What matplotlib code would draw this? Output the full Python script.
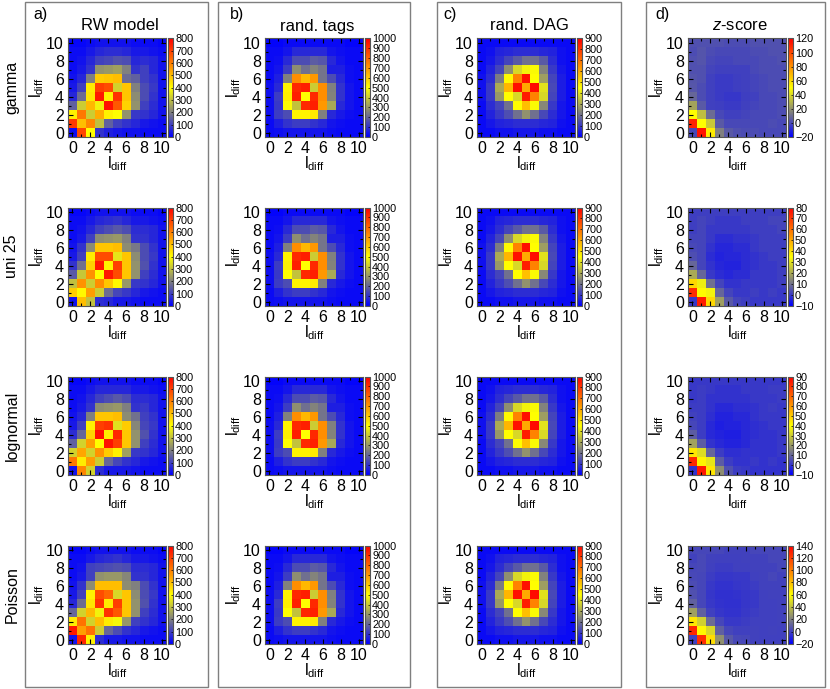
import numpy as np
import matplotlib
matplotlib.use("Agg")
import matplotlib.pyplot as plt
from matplotlib.colors import LinearSegmentedColormap
from matplotlib.patches import Rectangle

plt.rcParams['font.family'] = ['Liberation Sans', 'DejaVu Sans']
plt.rcParams['mathtext.fontset'] = 'custom'
plt.rcParams['mathtext.rm'] = 'Liberation Sans'
plt.rcParams['mathtext.it'] = 'Liberation Sans:italic'

# ---------------- data (rows: l_diff y = 0 .. 10, columns: x = 0 .. 10) ----------------
column_titles = ["RW model", "rand. tags", "rand. DAG", r"$z$-score"]
panel_letters = ["a)", "b)", "c)", "d)"]
row_labels = ["gamma", "uni 25", "lognormal", "Poisson"]
tick_values = [0, 2, 4, 6, 8, 10]

rw_gamma = [
    [20, 690, 400, 80, 50, 40, 30, 30, 20, 20, 20],
    [710, 500, 590, 300, 150, 100, 80, 60, 40, 30, 20],
    [420, 610, 320, 530, 420, 400, 230, 90, 80, 60, 30],
    [150, 320, 510, 380, 770, 660, 470, 230, 100, 70, 30],
    [60, 170, 440, 760, 420, 720, 490, 220, 120, 80, 30],
    [40, 100, 430, 700, 680, 330, 490, 200, 120, 90, 30],
    [30, 60, 200, 480, 490, 500, 170, 150, 100, 80, 30],
    [20, 40, 80, 230, 240, 250, 200, 80, 100, 60, 30],
    [20, 30, 60, 100, 110, 130, 120, 60, 70, 60, 30],
    [20, 20, 40, 60, 70, 70, 60, 40, 40, 30, 20],
    [10, 10, 20, 30, 30, 30, 30, 20, 20, 20, 10],
]
rw_uni25 = [
    [30, 500, 300, 70, 60, 40, 40, 30, 20, 20, 20],
    [480, 410, 550, 320, 170, 110, 90, 60, 40, 30, 20],
    [300, 570, 320, 580, 490, 410, 240, 90, 80, 60, 30],
    [140, 310, 570, 400, 760, 680, 490, 230, 100, 70, 30],
    [80, 180, 470, 760, 420, 700, 490, 230, 130, 80, 30],
    [40, 100, 430, 680, 680, 360, 490, 220, 120, 90, 30],
    [30, 80, 220, 490, 490, 500, 220, 190, 120, 80, 30],
    [20, 40, 100, 220, 230, 240, 200, 80, 80, 60, 30],
    [20, 30, 60, 100, 120, 140, 120, 70, 70, 60, 30],
    [20, 20, 40, 60, 70, 80, 60, 40, 40, 30, 20],
    [10, 10, 20, 30, 30, 30, 30, 20, 20, 20, 10],
]
rw_lognormal = [
    [30, 590, 330, 70, 40, 40, 40, 30, 20, 20, 20],
    [610, 430, 550, 320, 160, 110, 80, 60, 40, 30, 20],
    [330, 540, 330, 570, 480, 420, 250, 90, 80, 60, 30],
    [150, 330, 550, 400, 770, 700, 490, 230, 100, 70, 30],
    [70, 160, 470, 780, 430, 740, 490, 230, 130, 80, 30],
    [40, 100, 420, 700, 720, 350, 480, 210, 110, 90, 30],
    [30, 60, 200, 490, 490, 500, 220, 180, 100, 80, 30],
    [20, 40, 80, 220, 230, 240, 200, 80, 90, 60, 30],
    [20, 30, 60, 100, 120, 140, 120, 70, 70, 60, 30],
    [20, 20, 40, 60, 60, 60, 60, 40, 40, 30, 20],
    [10, 10, 20, 30, 30, 30, 30, 20, 20, 20, 10],
]
rw_poisson = [
    [30, 740, 420, 70, 40, 40, 30, 30, 20, 20, 20],
    [760, 550, 620, 320, 160, 120, 80, 60, 40, 30, 20],
    [430, 620, 330, 500, 430, 390, 240, 100, 80, 60, 30],
    [160, 330, 510, 380, 720, 660, 490, 230, 100, 70, 30],
    [60, 170, 440, 720, 430, 700, 490, 230, 130, 80, 30],
    [40, 100, 420, 680, 640, 340, 490, 220, 120, 90, 30],
    [30, 80, 220, 500, 500, 500, 220, 200, 120, 80, 30],
    [20, 40, 100, 230, 240, 240, 210, 80, 80, 60, 30],
    [20, 30, 100, 110, 120, 130, 120, 70, 70, 60, 30],
    [20, 20, 40, 60, 70, 80, 60, 40, 40, 30, 20],
    [10, 10, 20, 30, 30, 30, 30, 20, 20, 20, 10],
]
rand_tags = [
    [20, 30, 40, 40, 40, 40, 40, 30, 20, 20, 20],
    [20, 60, 100, 120, 120, 100, 80, 40, 30, 20, 20],
    [30, 120, 150, 520, 520, 540, 250, 80, 50, 30, 20],
    [30, 110, 500, 380, 920, 940, 700, 330, 80, 40, 20],
    [30, 120, 530, 940, 500, 920, 720, 260, 100, 40, 20],
    [30, 80, 520, 920, 940, 400, 720, 250, 100, 40, 20],
    [20, 60, 250, 720, 640, 700, 230, 150, 80, 30, 20],
    [20, 40, 120, 280, 220, 260, 230, 60, 60, 30, 20],
    [20, 30, 80, 150, 150, 180, 170, 80, 40, 20, 20],
    [20, 20, 40, 80, 80, 80, 80, 40, 30, 20, 20],
    [10, 10, 20, 20, 20, 20, 20, 20, 20, 10, 10],
]
rand_dag = [
    [20, 20, 30, 30, 40, 40, 40, 30, 30, 20, 20],
    [20, 40, 60, 70, 80, 80, 80, 70, 60, 30, 20],
    [20, 60, 100, 140, 200, 260, 200, 130, 80, 40, 20],
    [20, 80, 120, 200, 450, 560, 440, 240, 100, 40, 20],
    [30, 100, 270, 450, 380, 850, 670, 380, 120, 50, 20],
    [30, 100, 300, 580, 870, 600, 880, 400, 130, 50, 20],
    [30, 80, 220, 460, 670, 870, 450, 280, 120, 50, 20],
    [20, 60, 120, 250, 380, 430, 440, 230, 100, 40, 20],
    [20, 40, 80, 120, 160, 200, 200, 160, 80, 30, 20],
    [20, 30, 60, 70, 80, 80, 80, 70, 60, 30, 20],
    [20, 20, 20, 20, 20, 20, 20, 20, 20, 20, 20],
]
z_gamma = [
    [0, 115, 55, 15, 5, 2, 1, 1, 0, 0, 0],
    [110, 50, 35, 5, 0, 0, 0, 0, 0, 1, 0],
    [50, 32, 10, 0, -2, -2, -1, 0, 0, 0, 1],
    [25, 5, -2, -3, -4, -4, -2, -1, 0, 0, 1],
    [8, 1, -2, -4, -5, -5, -3, -2, 0, 0, 1],
    [4, 1, -2, -4, -4, -3, -2, -1, 0, 1, 1],
    [3, 2, -2, -4, -4, -3, -2, -1, 0, 1, 1],
    [2, 2, -1, -2, -2, -2, -2, 0, 1, 1, 1],
    [2, 3, 0, -1, -1, 0, 0, 0, 1, 1, 2],
    [1, 3, 1, 0, 0, 0, 0, 1, 1, 2, 2],
    [2, 2, 2, 2, 1, 1, 1, 2, 2, 2, 2],
]
z_uni25 = [
    [0, 75, 42, 18, 6, 2, 1, 0, 0, 0, 0],
    [72, 36, 33, 8, 2, 0, 0, 1, 0, 1, 0],
    [42, 32, 10, 2, -1, -1, 0, 0, 0, 0, 1],
    [20, 8, 0, -2, -3, -2, -2, 0, 0, 0, 1],
    [8, 2, -1, -3, -4, -4, -2, -1, 0, 0, 1],
    [4, 2, -2, -4, -3, -3, -2, -1, 0, 1, 1],
    [3, 2, -1, -3, -3, -2, -2, 0, 1, 1, 1],
    [2, 2, 0, -2, -2, -1, -1, 0, 1, 1, 1],
    [1, 2, 0, 0, 0, 0, 0, 1, 1, 1, 2],
    [1, 2, 1, 0, 0, 0, 1, 1, 1, 2, 2],
    [1, 1, 1, 1, 1, 1, 1, 1, 1, 1, 1],
]
z_lognormal = [
    [0, 85, 45, 18, 6, 2, 1, 0, 0, 0, 0],
    [82, 42, 35, 8, 2, 0, 0, 1, 0, 1, 0],
    [45, 33, 10, 2, -1, -1, 0, 0, 0, 0, 1],
    [22, 8, 0, -2, -3, -3, -2, 0, 0, 0, 1],
    [8, 2, -2, -3, -4, -4, -2, -1, 0, 0, 1],
    [4, 2, -2, -4, -3, -3, -2, -1, 0, 1, 1],
    [3, 2, -1, -3, -3, -2, -2, 0, 1, 1, 1],
    [2, 2, 0, -2, -2, -1, -1, 0, 1, 2, 1],
    [1, 2, 0, 0, 0, 0, 0, 1, 1, 1, 2],
    [1, 2, 1, 0, 0, 0, 1, 1, 1, 2, 2],
    [1, 1, 1, 1, 1, 1, 1, 1, 1, 1, 1],
]
z_poisson = [
    [0, 125, 70, 25, 8, 3, 2, 1, 0, 0, 0],
    [128, 62, 48, 10, 2, 0, 0, 1, 0, 1, 0],
    [68, 45, 14, 2, -2, -2, -1, 0, 0, 0, 1],
    [30, 10, 0, -3, -4, -4, -2, -1, 0, 0, 1],
    [10, 2, -2, -4, -5, -5, -3, -2, 0, 0, 1],
    [5, 2, -3, -5, -5, -4, -3, -2, 0, 1, 1],
    [4, 2, -2, -4, -4, -3, -2, -1, 1, 1, 1],
    [3, 2, -1, -3, -3, -2, -2, 0, 1, 2, 1],
    [2, 3, 0, -1, -1, 0, 0, 1, 1, 1, 2],
    [1, 3, 1, 0, 0, 0, 1, 1, 1, 2, 2],
    [2, 2, 2, 2, 1, 1, 1, 2, 2, 2, 2],
]

panel_data = [
    [rw_gamma, rand_tags, rand_dag, z_gamma],
    [rw_uni25, rand_tags, rand_dag, z_uni25],
    [rw_lognormal, rand_tags, rand_dag, z_lognormal],
    [rw_poisson, rand_tags, rand_dag, z_poisson],
]
# colour ranges (vmin, vmax, tick step)
col_ranges = [
    [(0, 800, 100), (0, 1000, 100), (0, 900, 100), (-20, 120, 20)],
    [(0, 800, 100), (0, 1000, 100), (0, 900, 100), (-10, 80, 10)],
    [(0, 800, 100), (0, 1000, 100), (0, 900, 100), (-10, 90, 10)],
    [(0, 800, 100), (0, 1000, 100), (0, 900, 100), (-20, 140, 20)],
]

# ---------------- style ----------------
cmap = LinearSegmentedColormap.from_list(
    "bgyr",
    [(0.0, (0, 0, 1)), (0.25, (0.5, 0.5, 0.5)), (0.5, (1, 1, 0)),
     (0.75, (1, 0.5, 0)), (1.0, (1, 0, 0))], N=256)

W, H = 830, 689
fig = plt.figure(figsize=(W / 100, H / 100), dpi=100)

def fx(px):
    return px / W

def fy(py):
    return 1 - py / H

ax_left = [68, 265, 477, 688]
ax_w = 98
cb_gap = 1.5
cb_w = 5.5
row_top = [38.5, 207.5, 376.5, 545.5]
ax_h = 98.5

box_x = [(25, 208), (218, 410), (437, 621), (646, 825)]
for x0, x1 in box_x:
    fig.add_artist(Rectangle((fx(x0), fy(687)), fx(x1 - x0), (687 - 2) / H,
                             transform=fig.transFigure, fill=False,
                             edgecolor="#7f7f7f", linewidth=1.0))

letter_x = [33, 230, 443, 655]
for c in range(4):
    fig.text(fx(letter_x[c]), fy(15), panel_letters[c], fontsize=11.5,
             ha="left", va="center")
    fig.text(fx(ax_left[c] + ax_w / 2 + 3), fy(26), column_titles[c],
             fontsize=12, ha="center", va="center")

for r in range(4):
    fig.text(fx(12), fy(row_top[r] + ax_h / 2), row_labels[r], fontsize=11.5,
             rotation=90, ha="center", va="center")

lab = r"$\mathregular{l_{diff}}$"
for r in range(4):
    for c in range(4):
        x0 = ax_left[c]
        y0 = row_top[r]
        ax = fig.add_axes([fx(x0), fy(y0 + ax_h), fx(ax_w), ax_h / H])
        data = np.array(panel_data[r][c], dtype=float)
        vmin, vmax, step = col_ranges[r][c]
        im = ax.imshow(data, origin="lower", cmap=cmap, vmin=vmin, vmax=vmax,
                       extent=(-0.5, 10.5, -0.5, 10.5), aspect="auto",
                       interpolation="nearest")
        ax.set_xticks(tick_values)
        ax.set_yticks(tick_values)
        ax.set_xticks(np.arange(1, 10, 2), minor=True)
        ax.set_yticks(np.arange(1, 10, 2), minor=True)
        ax.tick_params(which="both", direction="in", top=True, right=True,
                       labelsize=11.5, pad=3, width=0.8)
        ax.tick_params(which="major", length=3.5)
        ax.tick_params(which="minor", length=2)
        for s in ax.spines.values():
            s.set_color("#555555")
            s.set_linewidth(0.8)
        ax.set_xlabel(lab, fontsize=11.5, labelpad=-1)
        ax.set_ylabel(lab, fontsize=11.5, labelpad=0)

        cax = fig.add_axes([fx(x0 + ax_w + cb_gap), fy(y0 + ax_h), fx(cb_w), ax_h / H])
        cb = fig.colorbar(im, cax=cax, ticks=np.arange(vmin, vmax + step / 2, step))
        cb.ax.tick_params(labelsize=7.8, length=1.5, width=0.5, pad=1.5, direction="in")
        cb.outline.set_edgecolor("#555555")
        cb.outline.set_linewidth(0.8)

fig.savefig("out.png", dpi=100)
